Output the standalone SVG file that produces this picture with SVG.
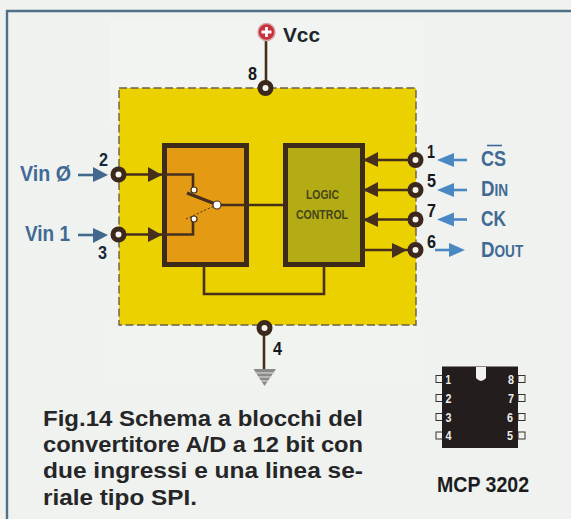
<svg xmlns="http://www.w3.org/2000/svg" width="571" height="519" viewBox="0 0 571 519">
<style>
.w{fill:none;stroke:#46301c;stroke-width:2.6}
.pin{fill:#f4f4ec;stroke:#3c281c;stroke-width:5}
.ah{fill:#46301c}
.bl{fill:#4a88c4}
.bw{stroke:#4a88c4;stroke-width:2.6;fill:none}
.sl{fill:#42688e}
.slw{stroke:#42688e;stroke-width:2.6;fill:none}
.lab{font-family:"Liberation Sans",Arial,sans-serif;font-weight:700;fill:#3f6a96;font-size:22px}
.num{font-family:"Liberation Sans",Arial,sans-serif;font-weight:700;fill:#15181c;font-size:19px}
.cap{font-family:"Liberation Sans",Arial,sans-serif;font-weight:700;fill:#262628;font-size:22px}
.chip{font-family:"Liberation Sans",Arial,sans-serif;font-weight:700;fill:#eeeeea;font-size:13px}
.leg{fill:#f2f3ef;stroke:#333;stroke-width:1}
.sw{fill:#fff;stroke:#46301c;stroke-width:1.2}
.lc{font-family:"Liberation Sans",Arial,sans-serif;font-weight:700;font-size:12.5px;fill:#44441c}
</style>
<rect width="571" height="519" fill="#eff2ee"/>
<rect x="110" y="22" width="314" height="100" fill="#f1f4f0"/>
<rect x="110" y="326" width="314" height="58" fill="#f1f3ef"/>
<path d="M571 11H7V519" fill="none" stroke="#4e7088" stroke-width="2.4"/>
<g id="chip-body">
<rect x="119" y="88" width="297" height="237" fill="#ecd100" stroke="#6a6048" stroke-width="1.4" stroke-dasharray="8 3.5"/>
</g>
<g id="switch-block">
<rect x="164.500" y="145.500" width="82" height="119" fill="#e49a12" stroke="#3e2a18" stroke-width="5"/>
</g>
<g id="logic-control">
<rect x="285.500" y="145.500" width="77" height="119" fill="#b4ac14" stroke="#3e2a18" stroke-width="5"/>
<text class="lc" x="306" y="199" textLength="33" lengthAdjust="spacingAndGlyphs">LOGIC</text>
<text class="lc" x="296" y="219" textLength="52" lengthAdjust="spacingAndGlyphs">CONTROL</text>
</g>
<g id="connectors">
<path class="w" d="M266 40V84" stroke-width="2.4"/>
<path class="w" d="M122 174.500H193V189"/>
<path class="w" d="M122 234.500H193V220"/>
<path class="w" d="M218 205H283"/>
<path class="w" d="M363 160H412M363 190H412M363 219.500H412M363 250H412"/>
<path class="w" d="M204 267V294H324V267"/>
<path class="w" d="M264 332V371"/>
<polygon class="ah" points="148,167 162,175 148,182"/>
<polygon class="ah" points="148,227 162,235 148,242"/>
<polygon class="ah" points="363,160 378,152 378,167"/>
<polygon class="ah" points="363,190 378,182 378,197"/>
<polygon class="ah" points="363,220 378,212 378,227"/>
<polygon class="ah" points="407,250 392,243 392,258"/>
<path d="M187 193L218 205" stroke="#46301c" stroke-width="3.4" fill="none"/>
<path d="M186 219L214 206" stroke="#46301c" stroke-width="1" stroke-dasharray="2 2" fill="none"/>
<circle class="sw" cx="194" cy="190" r="3"/>
<circle class="sw" cx="194" cy="219" r="3"/>
<circle class="sw" cx="217" cy="205" r="4"/>
</g>
<g id="vcc">
<circle cx="266.500" cy="32" r="8.500" fill="#c8303c" stroke="#d8a0a4" stroke-width="1.500"/>
<path d="M266.500 27V37M261.500 32H271.500" stroke="#fff" stroke-width="2.800"/>
<text x="283" y="42" font-family="Liberation Sans, Arial, sans-serif" font-weight="700" font-size="21" fill="#20242c" textLength="37" lengthAdjust="spacingAndGlyphs">Vcc</text>
</g>
<g id="pin-8"><circle class="pin" cx="265.500" cy="88" r="5.500"/><text class="num" x="248" y="80" textLength="9" lengthAdjust="spacingAndGlyphs">8</text></g>
<g id="pin-4"><circle class="pin" cx="264.500" cy="328" r="5.500"/><text class="num" x="273" y="355" font-size="18" textLength="9" lengthAdjust="spacingAndGlyphs">4</text>
<path d="M253.500 369H276L264.500 386Z" fill="#8a8a88"/>
<path d="M254 373H275M257 377H272M260 381H269" stroke="#e4e4e0" stroke-width="1"/></g>
<g id="pin-2"><circle class="pin" cx="118.500" cy="174.500" r="5.500"/><text class="num" x="99" y="165.500" style="fill:#14283c" textLength="9" lengthAdjust="spacingAndGlyphs">2</text></g>
<g id="pin-3"><circle class="pin" cx="118.500" cy="234.500" r="5.500"/><text class="num" x="98" y="259" style="fill:#14283c" textLength="9" lengthAdjust="spacingAndGlyphs">3</text></g>
<g id="pin-1"><circle class="pin" cx="415.500" cy="160" r="5.500"/><text class="num" x="427" y="158" textLength="8" lengthAdjust="spacingAndGlyphs">1</text></g>
<g id="pin-5"><circle class="pin" cx="415.500" cy="190" r="5.500"/><text class="num" x="427" y="187" textLength="9" lengthAdjust="spacingAndGlyphs">5</text></g>
<g id="pin-7"><circle class="pin" cx="415.500" cy="219.500" r="5.500"/><text class="num" x="427" y="217" textLength="9" lengthAdjust="spacingAndGlyphs">7</text></g>
<g id="pin-6"><circle class="pin" cx="415.500" cy="250" r="5.500"/><text class="num" x="427" y="248" textLength="9" lengthAdjust="spacingAndGlyphs">6</text></g>
<g id="in-vin0">
<text class="lab" x="20" y="181" textLength="51" lengthAdjust="spacingAndGlyphs">Vin Ø</text>
<path class="slw" d="M78 175H96"/><polygon class="sl" points="93,167 108,175 93,182"/>
</g>
<g id="in-vin1">
<text class="lab" x="25" y="241" textLength="45" lengthAdjust="spacingAndGlyphs">Vin 1</text>
<path class="slw" d="M78 235H96"/><polygon class="sl" points="93,228 108,235 93,243"/>
</g>
<g id="in-cs">
<path class="bw" d="M445 160H467"/><polygon class="bl" points="437,160 454,153 454,167"/>
<text class="lab" x="481" y="166" textLength="25" lengthAdjust="spacingAndGlyphs">CS</text>
<path d="M487 145.500H502" stroke="#3f6a96" stroke-width="1.600"/>
</g>
<g id="in-din">
<path class="bw" d="M445 190H467"/><polygon class="bl" points="437,190 454,183 454,197"/>
<text class="lab" transform="translate(481 196) scale(.85 1)">D<tspan font-size="16">IN</tspan></text>
</g>
<g id="in-ck">
<path class="bw" d="M445 219.500H467"/><polygon class="bl" points="437,219.500 454,212.500 454,226.500"/>
<text class="lab" x="481" y="226" textLength="25" lengthAdjust="spacingAndGlyphs">CK</text>
</g>
<g id="out-dout">
<path class="bw" d="M435 250H452"/><polygon class="bl" points="449,243 465,250 449,257"/>
<text class="lab" transform="translate(481 257) scale(.85 1)">D<tspan font-size="16">OUT</tspan></text>
</g>
<g id="caption">
<text class="cap" x="43" y="426" textLength="320" lengthAdjust="spacingAndGlyphs">Fig.14 Schema a blocchi del</text>
<text class="cap" x="43" y="452" textLength="320" lengthAdjust="spacingAndGlyphs">convertitore A/D a 12 bit con</text>
<text class="cap" x="43" y="478" textLength="320" lengthAdjust="spacingAndGlyphs">due ingressi e una linea se-</text>
<text class="cap" x="43" y="505" textLength="154" lengthAdjust="spacingAndGlyphs">riale tipo SPI.</text>
</g>
<g id="mcp3202">
<rect x="436" y="375.500" width="6.500" height="7" class="leg"/><rect x="436" y="394.500" width="6.500" height="7" class="leg"/><rect x="436" y="413.500" width="6.500" height="7" class="leg"/><rect x="436" y="432" width="6.500" height="7" class="leg"/>
<rect x="518" y="375.500" width="7" height="7" class="leg"/><rect x="518" y="394.500" width="7" height="7" class="leg"/><rect x="518" y="413.500" width="7" height="7" class="leg"/><rect x="518" y="432" width="7" height="7" class="leg"/>
<rect x="442" y="366.500" width="76" height="81.500" fill="#231d1e"/>
<path d="M476 367H486V378Q481 384 476 378Z" fill="#f2f2ee"/>
<text class="chip" x="445.500" y="383.500" textLength="5.500" lengthAdjust="spacingAndGlyphs">1</text><text class="chip" x="445.500" y="402.500" textLength="6" lengthAdjust="spacingAndGlyphs">2</text><text class="chip" x="445.500" y="421.500" textLength="6" lengthAdjust="spacingAndGlyphs">3</text><text class="chip" x="445.500" y="440" textLength="6" lengthAdjust="spacingAndGlyphs">4</text>
<text class="chip" x="508" y="383.500" textLength="6" lengthAdjust="spacingAndGlyphs">8</text><text class="chip" x="508" y="402.500" textLength="6" lengthAdjust="spacingAndGlyphs">7</text><text class="chip" x="507" y="421.500" textLength="6" lengthAdjust="spacingAndGlyphs">6</text><text class="chip" x="507" y="440" textLength="6" lengthAdjust="spacingAndGlyphs">5</text>
<text x="437" y="492" font-family="Liberation Sans, Arial, sans-serif" font-weight="700" font-size="22" fill="#1c1c20" textLength="92" lengthAdjust="spacingAndGlyphs">MCP 3202</text>
</g>
</svg>
